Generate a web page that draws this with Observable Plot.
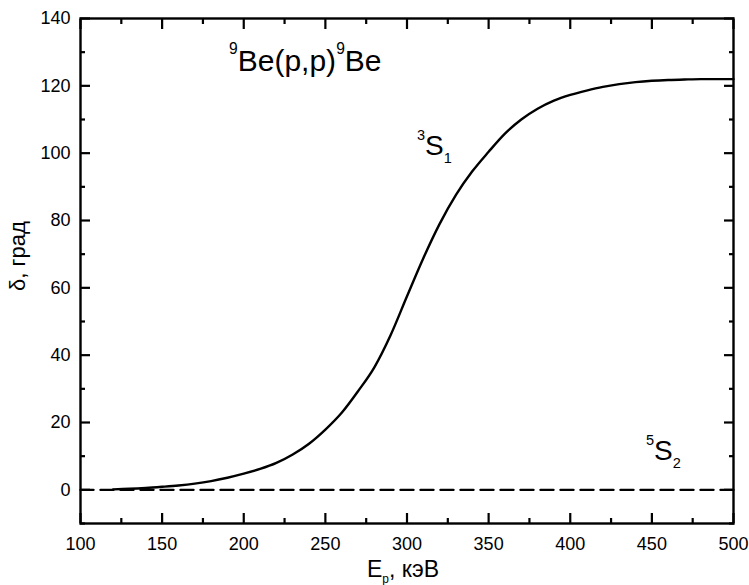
<!DOCTYPE html>
<html><head><meta charset="utf-8">
<script src="https://cdn.jsdelivr.net/npm/d3@7"></script>
<script src="https://cdn.jsdelivr.net/npm/@observablehq/plot@0.6"></script>
<style>
body{margin:0;background:#fff}
#chart svg{font-family:'Liberation Sans', Arial, Helvetica, sans-serif;font-size:18px;color:#000;background:#fff}
</style>
</head><body><div id="chart"></div>
<script>
// 3S1 phase shift (deg) vs proton energy (keV)
const energy3S1 = [120,130,140,150,160,170,180,190,200,210,220,230,240,250,260,270,280,290,300,310,320,330,340,350,360,370,380,390,400,410,420,430,440,450,460,470,480,490,500];
const phase3S1  = [0.15,0.3,0.55,0.9,1.3,1.85,2.6,3.6,4.8,6.2,8.0,10.5,13.7,17.9,22.9,29.3,36.4,46.0,57.5,68.8,79.0,87.6,94.6,100.4,105.8,110.0,113.2,115.6,117.3,118.6,119.7,120.5,121.1,121.5,121.75,121.9,122.0,122.0,122.0];
// 5S2 phase shift (deg)
const energy5S2 = [100, 500];
const phase5S2  = [0, 0];

const xTicks = [100,150,200,250,300,350,400,450,500];
const xMinor = [125,175,225,275,325,375,425,475];
const yTicks = [0,20,40,60,80,100,120,140];
const yMinor = [-10,10,30,50,70,90,110,130];

// annotations: [x (keV), y (deg)] of the text baseline start
const labelNames = ["title", "3S1", "5S2"];
const labelX = [191.3, 306.4, 446.7];
const labelY = [124.3, 99.3, 8.6];

const W = 749, H = 585, mL = 80, mR = 16, mT = 18, mB = 62;
const FONT = "'Liberation Sans', Arial, Helvetica, sans-serif";
const TSW = 2.2;
const blank = () => "";

const s1 = energy3S1.map((e, i) => ({e, d: phase3S1[i]}));
const s2 = energy5S2.map((e, i) => ({e, d: phase5S2[i]}));

const plot = Plot.plot({
  width: W, height: H,
  marginLeft: mL, marginRight: mR, marginTop: mT, marginBottom: mB,
  x: {domain: [100, 500]},
  y: {domain: [-10, 140]},
  marks: [
    // labelled axes with inward major ticks
    Plot.axisX(xTicks, {anchor: "bottom", tickSize: -10, tickPadding: 24, stroke: "black", strokeWidth: TSW, label: null, tickFormat: d => String(d)}),
    Plot.axisY(yTicks, {anchor: "left", tickSize: -10, tickPadding: 20, stroke: "black", strokeWidth: TSW, label: null, tickFormat: d => String(d)}),
    // minor ticks
    Plot.axisX(xMinor, {anchor: "bottom", tickSize: -5, stroke: "black", strokeWidth: TSW, label: null, tickFormat: blank}),
    Plot.axisY(yMinor, {anchor: "left", tickSize: -5, stroke: "black", strokeWidth: TSW, label: null, tickFormat: blank}),
    // mirrored ticks on top and right
    Plot.axisX(xTicks, {anchor: "top", tickSize: -10, stroke: "black", strokeWidth: TSW, label: null, tickFormat: blank}),
    Plot.axisX(xMinor, {anchor: "top", tickSize: -5, stroke: "black", strokeWidth: TSW, label: null, tickFormat: blank}),
    Plot.axisY(yTicks, {anchor: "right", tickSize: -10, stroke: "black", strokeWidth: TSW, label: null, tickFormat: blank}),
    Plot.axisY(yMinor, {anchor: "right", tickSize: -5, stroke: "black", strokeWidth: TSW, label: null, tickFormat: blank}),
    Plot.line(s2, {x: "e", y: "d", stroke: "black", strokeWidth: 2.4, strokeDasharray: "13,7"}),
    Plot.line(s1, {x: "e", y: "d", stroke: "black", strokeWidth: 2.4, curve: "monotone-x"}),
    Plot.frame({stroke: "black", strokeWidth: 2.4})
  ]
});
document.getElementById("chart").appendChild(plot);

const svg = d3.select(plot);
const sx = plot.scale("x"), sy = plot.scale("y");

function richText(px, py, parts, size, anchor) {
  const t = svg.append("text")
    .attr("x", px).attr("y", py)
    .attr("font-family", FONT).attr("font-size", size)
    .attr("fill", "black").attr("text-anchor", anchor || "start");
  let shift = 0;
  for (const [s, kind] of parts) {
    const target = kind === "sup" ? -size * 0.55 : kind === "sub" ? size * 0.27 : 0;
    t.append("tspan").attr("dy", target - shift)
      .attr("font-size", kind === "base" ? size : size * 0.52).text(s);
    shift = target;
  }
  return t;
}

const labelParts = {
  "title": [["9","sup"],["Be(p,p)","base"],["9","sup"],["Be","base"]],
  "3S1": [["3","sup"],["S","base"],["1","sub"]],
  "5S2": [["5","sup"],["S","base"],["2","sub"]]
};
const labelSize = {"title": 30, "3S1": 28, "5S2": 28};
labelNames.forEach((n, i) => {
  richText(sx.apply(labelX[i]), sy.apply(labelY[i]), labelParts[n], labelSize[n]);
});

// axis titles
richText(403, 577, [["E","base"],["p","sub"],[", кэВ","base"]], 23, "middle");
svg.append("text")
  .attr("transform", "translate(25,256) rotate(-90)")
  .attr("font-family", FONT).attr("font-size", 22).attr("fill", "black")
  .attr("text-anchor", "middle").text("δ, град");
</script>
</body></html>
